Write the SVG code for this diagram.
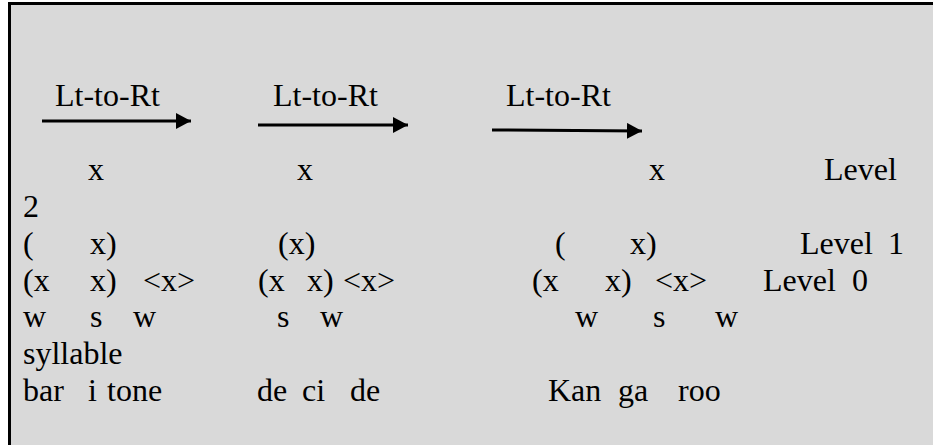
<svg xmlns="http://www.w3.org/2000/svg" width="933" height="445" viewBox="0 0 933 445">
<defs>
<style>
text{font-family:"Liberation Serif","Times New Roman",serif;font-size:32px;fill:#000}
.conn{stroke:#000;stroke-width:3;fill:none}
</style>
<marker id="ah" markerUnits="userSpaceOnUse" markerWidth="16" markerHeight="16" refX="15" refY="8" orient="auto">
<path d="M0,0 L15,8 L0,16 z" fill="#000"/>
</marker>
</defs>
<rect x="0" y="0" width="933" height="445" fill="#fff"/>
<rect x="9" y="3" width="924" height="442" fill="#d9d9d9"/>
<path d="M9.5,445 V3.5 H933" stroke="#000" stroke-width="3" fill="none"/>
<g id="connectors">
<line class="conn" x1="42" y1="121" x2="191" y2="121" marker-end="url(#ah)"/>
<line class="conn" x1="258" y1="125" x2="408" y2="125" marker-end="url(#ah)"/>
<line class="conn" x1="492" y1="130" x2="642" y2="131" marker-end="url(#ah)"/>
</g>
<g id="labels">
<text x="55" y="106">Lt-to-Rt</text>
<text x="273" y="106">Lt-to-Rt</text>
<text x="506" y="106">Lt-to-Rt</text>
</g>
<g id="level2">
<text x="88" y="180">x</text>
<text x="297" y="180">x</text>
<text x="649" y="180">x</text>
<text x="824" y="180">Level</text>
<text x="23" y="217">2</text>
</g>
<g id="level1">
<text x="23" y="254">(</text>
<text x="90" y="254">x)</text>
<text x="278" y="254">(x)</text>
<text x="555" y="254">(</text>
<text x="630" y="254">x)</text>
<text x="800" y="254">Level</text>
<text x="888" y="254">1</text>
</g>
<g id="level0">
<text x="23" y="291">(x</text>
<text x="90" y="291">x)</text>
<text x="143" y="291">&lt;x&gt;</text>
<text x="258" y="291">(x</text>
<text x="307" y="291">x)</text>
<text x="343" y="291">&lt;x&gt;</text>
<text x="532" y="291">(x</text>
<text x="605" y="291">x)</text>
<text x="655" y="291">&lt;x&gt;</text>
<text x="763" y="291">Level</text>
<text x="852" y="291">0</text>
</g>
<g id="stress">
<text x="23" y="327">w</text>
<text x="90" y="327">s</text>
<text x="133" y="327">w</text>
<text x="277" y="327">s</text>
<text x="320" y="327">w</text>
<text x="575" y="327">w</text>
<text x="653" y="327">s</text>
<text x="715" y="327">w</text>
</g>
<g id="syllable">
<text x="23" y="364">syllable</text>
</g>
<g id="words">
<text x="23" y="401">bar</text>
<text x="88" y="401">i</text>
<text x="107" y="401">tone</text>
<text x="257" y="401">de</text>
<text x="302" y="401">ci</text>
<text x="350" y="401">de</text>
<text x="548" y="401">Kan</text>
<text x="618" y="401">ga</text>
<text x="678" y="401">roo</text>
</g>
</svg>
